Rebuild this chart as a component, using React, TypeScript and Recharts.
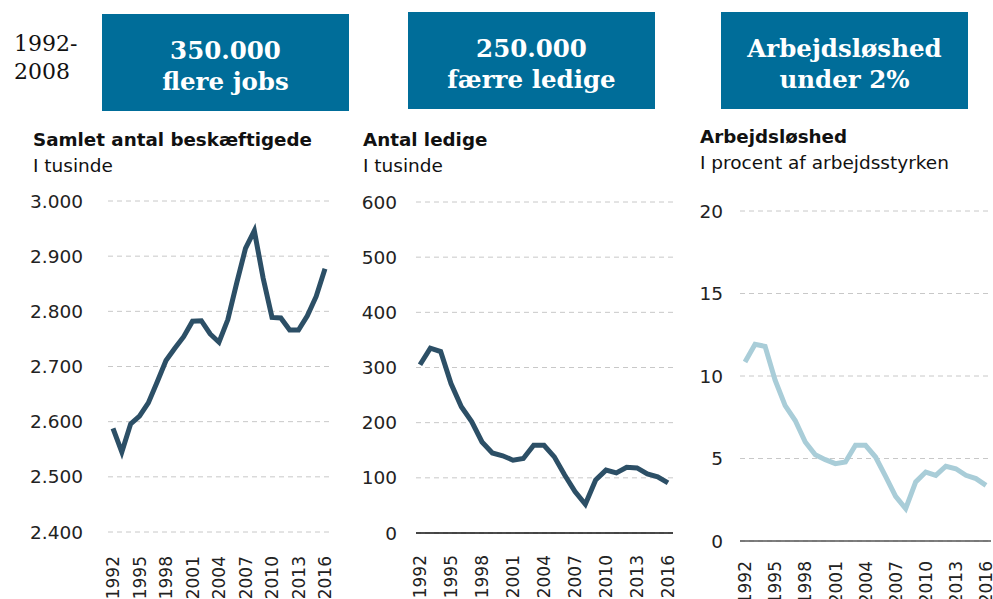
import { LineChart, Line, XAxis, YAxis, CartesianGrid } from 'recharts';

const years = [
  1992, 1993, 1994, 1995, 1996, 1997, 1998, 1999, 2000, 2001, 2002, 2003, 2004,
  2005, 2006, 2007, 2008, 2009, 2010, 2011, 2012, 2013, 2014, 2015, 2016,
];

// Samlet antal beskæftigede, tusinde
const employed = [
  2588, 2545, 2596, 2610, 2634, 2672, 2711, 2733, 2754, 2782, 2783, 2759, 2744,
  2785, 2851, 2914, 2946, 2860, 2789, 2788, 2766, 2766, 2792, 2827, 2877,
];

// Antal ledige, tusinde
const unemployed = [
  305, 335, 329, 271, 229, 202, 165, 145, 140, 132, 135, 159, 159,
  138, 105, 75, 52, 96, 114, 109, 119, 118, 107, 102, 91,
];

// Arbejdsløshed, procent
const unemploymentRate = [
  10.85, 11.92, 11.8, 9.74, 8.2, 7.3, 6.0, 5.23, 4.93, 4.69, 4.79, 5.8, 5.8,
  5.09, 3.92, 2.71, 1.96, 3.58, 4.18, 3.98, 4.53, 4.38, 3.98, 3.78, 3.37,
];

const xTicks = [1992, 1995, 1998, 2001, 2004, 2007, 2010, 2013, 2016];
const employedTicks = [2400, 2500, 2600, 2700, 2800, 2900, 3000];
const unemployedTicks = [0, 100, 200, 300, 400, 500, 600];
const rateTicks = [0, 5, 10, 15, 20];

const boxes = [
  { left: 102, top: 14, lines: ['350.000', 'flere jobs'] },
  { left: 408, top: 12, lines: ['250.000', 'færre ledige'] },
  { left: 721, top: 12, lines: ['Arbejdsløshed', 'under 2%'] },
];

const DARK = '#2c4f66';
const LIGHT = '#a9cdd8';
const FONT = '"DejaVu Sans", Verdana, sans-serif';

const rows = (values: number[]) => years.map((year, i) => ({ year, value: values[i] }));

const fmtThousands = (v: number) => v.toLocaleString('da-DK');

function YearTick(props: any) {
  const { x, y, payload, offset } = props;
  return (
    <g transform={`translate(${x},${y})`}>
      <text
        transform="rotate(-90)"
        x={-offset}
        y={0}
        dy="0.36em"
        textAnchor="end"
        fontSize={17}
        fontFamily={FONT}
        fill="#222"
      >
        {payload.value}
      </text>
    </g>
  );
}

interface PanelProps {
  left: number;
  width: number;
  values: number[];
  color: string;
  domain: [number, number];
  ticks: number[];
  yWidth: number;
  gap: number;
  marginTop: number;
  marginRight: number;
  xHeight: number;
  labelOffset: number;
  axisLine: string | null;
  pad: { left: number; right: number };
  format?: (v: number) => string;
}

function Panel(p: PanelProps) {
  return (
    <div style={{ position: 'absolute', left: p.left, top: 190 }}>
      <LineChart
        width={p.width}
        height={409}
        data={rows(p.values)}
        margin={{ top: p.marginTop, right: p.marginRight, bottom: 0, left: 0 }}
      >
        <CartesianGrid vertical={false} stroke="#c8c8c8" strokeDasharray="5 4" />
        <XAxis
          dataKey="year"
          type="number"
          domain={[1992, 2016]}
          ticks={xTicks}
          interval={0}
          padding={p.pad}
          height={p.xHeight}
          tickLine={false}
          axisLine={p.axisLine ? { stroke: p.axisLine, strokeWidth: 1.5 } : false}
          tick={<YearTick offset={p.labelOffset} />}
        />
        <YAxis
          domain={p.domain}
          ticks={p.ticks}
          width={p.yWidth}
          tickSize={0}
          tickMargin={p.gap}
          axisLine={false}
          tickLine={false}
          tickFormatter={p.format}
          tick={{ fontSize: 18.5, fontFamily: FONT, fill: '#222' }}
        />
        <Line
          type="linear"
          dataKey="value"
          stroke={p.color}
          strokeWidth={5}
          dot={false}
          isAnimationActive={false}
        />
      </LineChart>
    </div>
  );
}

export default function App() {
  return (
    <div
      style={{
        position: 'absolute',
        left: 0,
        top: 0,
        width: 993,
        height: 599,
        background: '#fff',
        overflow: 'hidden',
        fontFamily: FONT,
        color: '#111',
      }}
    >
      <div
        style={{
          position: 'absolute',
          left: 14,
          top: 30,
          fontFamily: '"DejaVu Serif", serif',
          fontSize: 22,
          lineHeight: '28px',
          color: '#111',
        }}
      >
        1992-
        <br />
        2008
      </div>

      {boxes.map((b) => (
        <div
          key={b.lines[0]}
          style={{
            position: 'absolute',
            left: b.left,
            top: b.top,
            width: 247,
            height: 97,
            boxSizing: 'border-box',
            paddingTop: 7,
            background: '#006d99',
            color: '#fff',
            fontFamily: '"DejaVu Serif", serif',
            fontWeight: 'bold',
            fontSize: 24.5,
            lineHeight: '31px',
            display: 'flex',
            flexDirection: 'column',
            alignItems: 'center',
            justifyContent: 'center',
          }}
        >
          {b.lines.map((l) => (
            <div key={l}>{l}</div>
          ))}
        </div>
      ))}

      <div style={{ position: 'absolute', left: 33, top: 129, fontSize: 18.3, fontWeight: 'bold' }}>
        Samlet antal beskæftigede
      </div>
      <div style={{ position: 'absolute', left: 33, top: 155, fontSize: 18.5 }}>I tusinde</div>

      <div style={{ position: 'absolute', left: 363, top: 129, fontSize: 18.3, fontWeight: 'bold' }}>
        Antal ledige
      </div>
      <div style={{ position: 'absolute', left: 363, top: 155, fontSize: 18.5 }}>I tusinde</div>

      <div style={{ position: 'absolute', left: 700, top: 126, fontSize: 18.3, fontWeight: 'bold' }}>
        Arbejdsløshed
      </div>
      <div style={{ position: 'absolute', left: 700, top: 152, fontSize: 18.5 }}>
        I procent af arbejdsstyrken
      </div>

      <Panel
        left={0}
        width={340}
        values={employed}
        color={DARK}
        domain={[2400, 3000]}
        ticks={employedTicks}
        yWidth={108}
        gap={25}
        marginTop={11}
        marginRight={11}
        xHeight={67}
        labelOffset={16}
        axisLine={null}
        pad={{ left: 5, right: 4 }}
        format={fmtThousands}
      />
      <Panel
        left={340}
        width={340}
        values={unemployed}
        color={DARK}
        domain={[0, 600]}
        ticks={unemployedTicks}
        yWidth={76}
        gap={19}
        marginTop={12}
        marginRight={7}
        xHeight={66}
        labelOffset={14}
        axisLine="#111"
        pad={{ left: 4, right: 5 }}
      />
      <Panel
        left={680}
        width={313}
        values={unemploymentRate}
        color={LIGHT}
        domain={[0, 20]}
        ticks={rateTicks}
        yWidth={60}
        gap={17}
        marginTop={21}
        marginRight={2}
        xHeight={58}
        labelOffset={12}
        axisLine="#555"
        pad={{ left: 5, right: 5 }}
      />
    </div>
  );
}
